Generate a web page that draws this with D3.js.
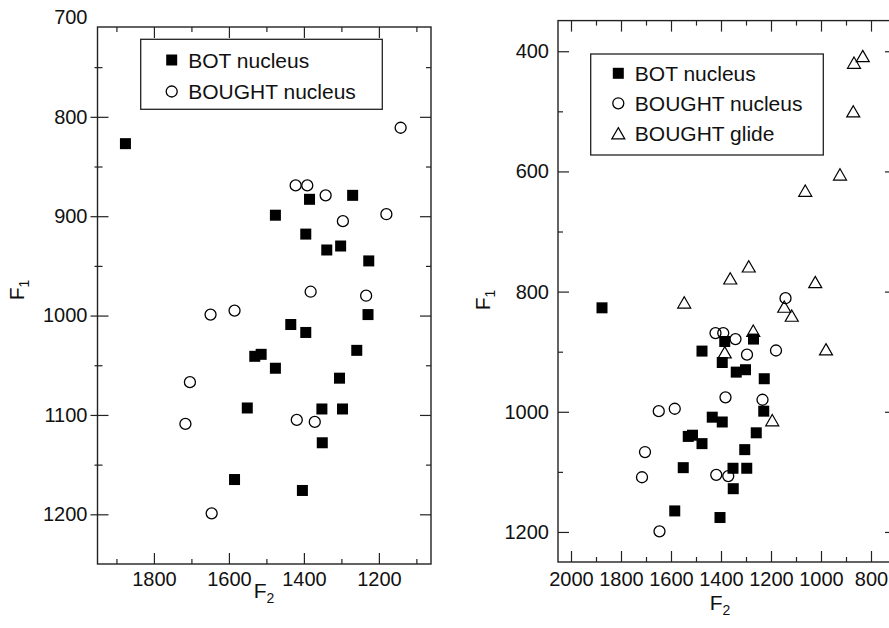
<!DOCTYPE html>
<html>
<head>
<meta charset="utf-8">
<script src="https://cdn.jsdelivr.net/npm/d3@7/dist/d3.min.js"></script>
<style>
  html, body { margin: 0; padding: 0; background: #fff; }
  svg { display: block; }
  text { font-family: "Liberation Sans", Arial, Helvetica, sans-serif; fill: #111; }
</style>
</head>
<body>
<svg id="chart" width="889" height="628"></svg>
<script>
// BOT vowel nucleus measurements (Hz)
const botF2 = [1876, 1385, 1270, 1476, 1395, 1339, 1302, 1227, 1229, 1435, 1395, 1259, 1531, 1514, 1476, 1305, 1551, 1352, 1297, 1351, 1585, 1404];
const botF1 = [827, 883, 879, 899, 918, 934, 930, 945, 999, 1009, 1017, 1035, 1041, 1039, 1053, 1063, 1093, 1094, 1094, 1128, 1165, 1176];

// BOUGHT vowel nucleus measurements (Hz)
const boughtNucF2 = [1142, 1422, 1391, 1342, 1180, 1296, 1382, 1234, 1649, 1585, 1704, 1716, 1419, 1371, 1646];
const boughtNucF1 = [811, 869, 869, 879, 898, 905, 976, 980, 999, 995, 1067, 1109, 1105, 1107, 1199];

// BOUGHT glide measurements (Hz)
const glideF2 = [833, 868, 871, 924, 1063, 1289, 1363, 1023, 1547, 1147, 1117, 1271, 1385, 980, 1195];
const glideF1 = [408, 419, 500, 605, 632, 758, 778, 784, 818, 825, 840, 865, 901, 896, 1014];

// Tick values
const leftXMajor = [1800, 1600, 1400, 1200];
const leftXMinor = [1900, 1700, 1500, 1300, 1100];
const leftYMajor = [700, 800, 900, 1000, 1100, 1200];
const leftYMinor = [750, 850, 950, 1050, 1150];
const rightXMajor = [2000, 1800, 1600, 1400, 1200, 1000, 800];
const rightXMinor = [1900, 1700, 1500, 1300, 1100, 900];
const rightYMajor = [400, 600, 800, 1000, 1200];
const rightYMinor = [500, 700, 900, 1100];

const svg = d3.select("#chart");
const zip = (xs, ys) => xs.map((v, i) => ({ f2: v, f1: ys[i] }));

const SQ = 11, CR = 5.5, TRI = 13;
const triPath = s => {
  const h = s * Math.sqrt(3) / 2;
  return `M0,${-h / 2}L${s / 2},${h / 2}L${-s / 2},${h / 2}Z`;
};

function drawMarker(g, kind, cx, cy) {
  if (kind === "square") {
    g.append("rect").attr("x", cx - SQ / 2).attr("y", cy - SQ / 2)
      .attr("width", SQ).attr("height", SQ).attr("fill", "#000");
  } else if (kind === "circle") {
    g.append("circle").attr("cx", cx).attr("cy", cy).attr("r", CR)
      .attr("fill", "none").attr("stroke", "#000").attr("stroke-width", 1.3);
  } else {
    g.append("path").attr("d", triPath(TRI)).attr("transform", `translate(${cx},${cy})`)
      .attr("fill", "none").attr("stroke", "#000").attr("stroke-width", 1.2);
  }
}

function drawPanel(cfg) {
  const g = svg.append("g");
  const x = d3.scaleLinear().domain(cfg.xDomain).range([cfg.left, cfg.right]);
  const y = d3.scaleLinear().domain(cfg.yDomain).range([cfg.top, cfg.bottom]);
  const H = cfg.bottom - cfg.top, W = cfg.right - cfg.left;
  const fmt = d3.format("d");

  const axisStyle = sel => {
    sel.select(".domain").remove();
    sel.selectAll(".tick line").attr("stroke", "#222").attr("stroke-width", 1.2);
    sel.selectAll("text").attr("font-size", 20).attr("fill", "#111")
      .attr("font-family", "'Liberation Sans', Arial, sans-serif");
  };

  // bottom + top
  g.append("g").attr("transform", `translate(0,${cfg.bottom})`)
    .call(d3.axisBottom(x).tickValues(cfg.xMajor).tickSize(-11).tickPadding(cfg.xPad).tickFormat(fmt)).call(axisStyle);
  g.append("g").attr("transform", `translate(0,${cfg.bottom})`)
    .call(d3.axisBottom(x).tickValues(cfg.xMinor).tickSize(-5).tickFormat("")).call(axisStyle);
  g.append("g").attr("transform", `translate(0,${cfg.top})`)
    .call(d3.axisTop(x).tickValues(cfg.xMajor).tickSize(-11).tickFormat("")).call(axisStyle);
  g.append("g").attr("transform", `translate(0,${cfg.top})`)
    .call(d3.axisTop(x).tickValues(cfg.xMinor).tickSize(-5).tickFormat("")).call(axisStyle);

  // left + right
  const yl = g.append("g").attr("transform", `translate(${cfg.left},0)`)
    .call(d3.axisLeft(y).tickValues(cfg.yMajor).tickSize(-11).tickPadding(cfg.yPad).tickFormat(fmt)).call(axisStyle);
  const ylm = g.append("g").attr("transform", `translate(${cfg.left},0)`)
    .call(d3.axisLeft(y).tickValues(cfg.yMinor).tickSize(-5).tickFormat("")).call(axisStyle);
  if (cfg.crossTicks) {
    yl.selectAll(".tick line").attr("x1", -7);
    ylm.selectAll(".tick line").attr("x1", -3);
  }
  // ticks outside the frame keep their label only
  yl.selectAll(".tick").filter(d => y(d) < cfg.top - 0.5 || y(d) > cfg.bottom + 0.5).select("line").remove();

  g.append("g").attr("transform", `translate(${cfg.right},0)`)
    .call(d3.axisRight(y).tickValues(cfg.yMajor.filter(d => y(d) >= cfg.top)).tickSize(-11).tickFormat("")).call(axisStyle);
  g.append("g").attr("transform", `translate(${cfg.right},0)`)
    .call(d3.axisRight(y).tickValues(cfg.yMinor).tickSize(-5).tickFormat("")).call(axisStyle);

  // frame
  g.append("rect").attr("x", cfg.left).attr("y", cfg.top).attr("width", W).attr("height", H)
    .attr("fill", "none").attr("stroke", "#222").attr("stroke-width", 1.4);

  // points
  const pts = g.append("g");
  cfg.series.forEach(s => {
    s.data.forEach(d => drawMarker(pts, s.kind, x(d.f2), y(d.f1)));
  });

  // legend
  const lg = g.append("g");
  lg.append("rect").attr("x", cfg.legend.x).attr("y", cfg.legend.y)
    .attr("width", cfg.legend.w).attr("height", cfg.legend.h)
    .attr("fill", "#fff").attr("stroke", "#222").attr("stroke-width", 1.3);
  cfg.series.forEach((s, i) => {
    const cy = cfg.legend.y + cfg.legend.first + i * cfg.legend.step;
    const mx = cfg.legend.x + cfg.legend.mx;
    drawMarker(lg, s.kind, mx, cy);
    lg.append("text").attr("x", mx + 16.5).attr("y", cy).attr("dy", "0.36em")
      .attr("font-size", 21).text(s.name);
  });

  // axis titles
  const tx = g.append("text").attr("text-anchor", "middle")
    .attr("x", cfg.xTitle[0]).attr("y", cfg.xTitle[1]).attr("font-size", 21);
  tx.append("tspan").text("F");
  tx.append("tspan").attr("font-size", 14).attr("dy", 5).text("2");

  const ty = g.append("text").attr("text-anchor", "middle")
    .attr("transform", `translate(${cfg.yTitle[0]},${cfg.yTitle[1]}) rotate(-90)`).attr("font-size", 21);
  ty.append("tspan").text("F");
  ty.append("tspan").attr("font-size", 14).attr("dy", 5).text("1");
}

const botSeries = { name: "BOT nucleus", kind: "square", data: zip(botF2, botF1) };
const nucSeries = { name: "BOUGHT nucleus", kind: "circle", data: zip(boughtNucF2, boughtNucF1) };
const glideSeries = { name: "BOUGHT glide", kind: "triangle", data: zip(glideF2, glideF1) };

drawPanel({
  left: 97.5, right: 431, top: 27, bottom: 564,
  xDomain: [1950.5, 1061], yDomain: [709.6, 1250],
  xMajor: leftXMajor, xMinor: leftXMinor, yMajor: leftYMajor, yMinor: leftYMinor,
  xPad: 8, yPad: 10, crossTicks: true,
  series: [botSeries, nucSeries],
  legend: { x: 140.7, y: 39.3, w: 241.6, h: 70, first: 20.7, step: 31.5, mx: 31 },
  xTitle: [264, 598], yTitle: [24, 290]
});

drawPanel({
  left: 558, right: 896, top: 20.6, bottom: 562,
  xDomain: [2052, 700], yDomain: [349, 1250],
  xMajor: rightXMajor, xMinor: rightXMinor, yMajor: rightYMajor, yMinor: rightYMinor,
  xPad: 10, yPad: 9, crossTicks: false,
  series: [botSeries, nucSeries, glideSeries],
  legend: { x: 590.7, y: 54, w: 232.6, h: 101, first: 19.3, step: 30, mx: 27.6 },
  xTitle: [720, 610], yTitle: [490, 300]
});
</script>
</body>
</html>
